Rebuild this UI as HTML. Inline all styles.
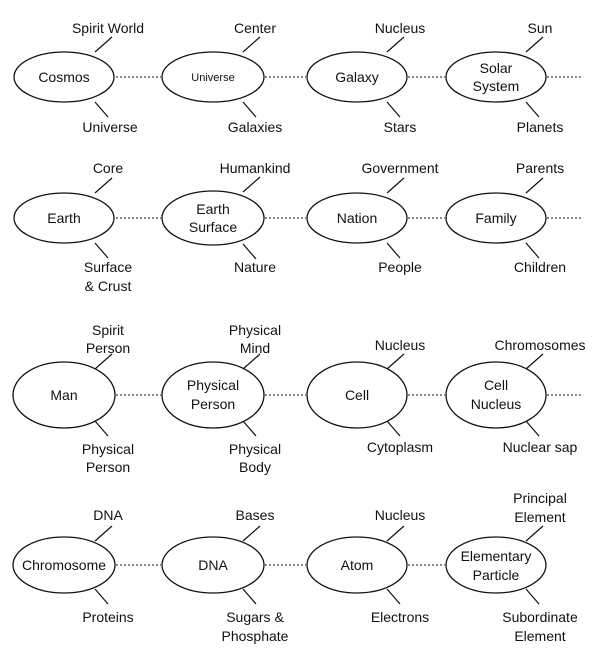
<!DOCTYPE html>
<html><head><meta charset="utf-8"><style>
html,body{margin:0;padding:0;background:#fff;}
svg{display:block;}
text{font-family:"Liberation Sans",Arial,sans-serif;font-size:14px;fill:#111;text-anchor:middle;}
</style></head><body>
<svg width="605" height="662" viewBox="0 0 605 662">
<g fill="none" stroke="#111" stroke-width="1.3">
<!-- rows: 77, 218, 395, 565 ; cols 64,213,357,496 -->
<ellipse cx="64" cy="77" rx="50" ry="25"/>
<ellipse cx="213" cy="77" rx="51" ry="25"/>
<ellipse cx="357" cy="77" rx="50" ry="25"/>
<ellipse cx="496" cy="77" rx="50" ry="25"/>
<ellipse cx="64" cy="218" rx="50" ry="25"/>
<ellipse cx="213" cy="218" rx="51" ry="27"/>
<ellipse cx="357" cy="218" rx="50" ry="25"/>
<ellipse cx="496" cy="218" rx="50" ry="25"/>
<ellipse cx="64" cy="395" rx="51" ry="33"/>
<ellipse cx="213" cy="395" rx="51" ry="33"/>
<ellipse cx="357" cy="395" rx="50" ry="33"/>
<ellipse cx="496" cy="395" rx="50" ry="33"/>
<ellipse cx="64" cy="565" rx="51" ry="28"/>
<ellipse cx="213" cy="565" rx="51" ry="28"/>
<ellipse cx="357" cy="565" rx="50" ry="28"/>
<ellipse cx="496" cy="565" rx="50" ry="28"/>
</g>
<g stroke="#111" stroke-width="1" stroke-dasharray="2,2">
<line x1="116" y1="77" x2="161" y2="77"/><line x1="265" y1="77" x2="306" y2="77"/><line x1="408" y1="77" x2="445" y2="77"/><line x1="547" y1="77" x2="582" y2="77"/>
<line x1="116" y1="218" x2="161" y2="218"/><line x1="265" y1="218" x2="306" y2="218"/><line x1="408" y1="218" x2="445" y2="218"/><line x1="547" y1="218" x2="582" y2="218"/>
<line x1="116" y1="395" x2="161" y2="395"/><line x1="265" y1="395" x2="306" y2="395"/><line x1="408" y1="395" x2="445" y2="395"/><line x1="547" y1="395" x2="582" y2="395"/>
<line x1="116" y1="565" x2="161" y2="565"/><line x1="265" y1="565" x2="306" y2="565"/><line x1="408" y1="565" x2="445" y2="565"/>
</g>
<g stroke="#111" stroke-width="1.2">
<!-- row1 -->
<line x1="95" y1="52" x2="112" y2="37"/><line x1="95" y1="102" x2="108" y2="117"/>
<line x1="243" y1="52" x2="260" y2="37"/><line x1="243" y1="102" x2="256" y2="117"/>
<line x1="387" y1="52" x2="404" y2="37"/><line x1="387" y1="102" x2="400" y2="117"/>
<line x1="526" y1="52" x2="543" y2="37"/><line x1="526" y1="102" x2="539" y2="117"/>
<!-- row2 -->
<line x1="95" y1="193" x2="112" y2="178"/><line x1="95" y1="243" x2="108" y2="258"/>
<line x1="243" y1="192" x2="260" y2="177"/><line x1="243" y1="244" x2="256" y2="259"/>
<line x1="387" y1="193" x2="404" y2="178"/><line x1="387" y1="243" x2="400" y2="258"/>
<line x1="526" y1="193" x2="543" y2="178"/><line x1="526" y1="243" x2="539" y2="258"/>
<!-- row3 -->
<line x1="95" y1="369" x2="112" y2="354"/><line x1="95" y1="421" x2="108" y2="436"/>
<line x1="243" y1="369" x2="260" y2="354"/><line x1="243" y1="421" x2="256" y2="436"/>
<line x1="387" y1="369" x2="404" y2="354"/><line x1="387" y1="421" x2="400" y2="436"/>
<line x1="526" y1="369" x2="543" y2="354"/><line x1="526" y1="421" x2="539" y2="436"/>
<!-- row4 -->
<line x1="95" y1="541" x2="112" y2="526"/><line x1="95" y1="589" x2="108" y2="604"/>
<line x1="243" y1="541" x2="260" y2="526"/><line x1="243" y1="589" x2="256" y2="604"/>
<line x1="387" y1="541" x2="404" y2="526"/><line x1="387" y1="589" x2="400" y2="604"/>
<line x1="526" y1="541" x2="543" y2="526"/><line x1="526" y1="589" x2="539" y2="604"/>
</g>
<!-- node labels -->
<text x="64" y="82">Cosmos</text>
<text x="213" y="81" style="font-size:11px">Universe</text>
<text x="357" y="82">Galaxy</text>
<text x="496" y="73">Solar</text><text x="496" y="91">System</text>
<text x="64" y="223">Earth</text>
<text x="213" y="214">Earth</text><text x="213" y="232">Surface</text>
<text x="357" y="223">Nation</text>
<text x="496" y="223">Family</text>
<text x="64" y="400">Man</text>
<text x="213" y="390">Physical</text><text x="213" y="409">Person</text>
<text x="357" y="400">Cell</text>
<text x="496" y="390">Cell</text><text x="496" y="409">Nucleus</text>
<text x="64" y="570">Chromosome</text>
<text x="213" y="570">DNA</text>
<text x="357" y="570">Atom</text>
<text x="496" y="561">Elementary</text><text x="496" y="580">Particle</text>
<!-- row1 outer labels -->
<text x="108" y="33">Spirit World</text><text x="110" y="132">Universe</text>
<text x="255" y="33">Center</text><text x="255" y="132">Galaxies</text>
<text x="400" y="33">Nucleus</text><text x="400" y="132">Stars</text>
<text x="540" y="33">Sun</text><text x="540" y="132">Planets</text>
<!-- row2 -->
<text x="108" y="173">Core</text><text x="108" y="272">Surface</text><text x="108" y="291">&amp; Crust</text>
<text x="255" y="173">Humankind</text><text x="255" y="272">Nature</text>
<text x="400" y="173">Government</text><text x="400" y="272">People</text>
<text x="540" y="173">Parents</text><text x="540" y="272">Children</text>
<!-- row3 -->
<text x="108" y="335">Spirit</text><text x="108" y="353">Person</text>
<text x="108" y="454">Physical</text><text x="108" y="472">Person</text>
<text x="255" y="335">Physical</text><text x="255" y="353">Mind</text>
<text x="255" y="454">Physical</text><text x="255" y="472">Body</text>
<text x="400" y="350">Nucleus</text><text x="400" y="452">Cytoplasm</text>
<text x="540" y="350">Chromosomes</text><text x="540" y="452">Nuclear sap</text>
<!-- row4 -->
<text x="108" y="520">DNA</text><text x="108" y="622">Proteins</text>
<text x="255" y="520">Bases</text><text x="255" y="622">Sugars &amp;</text><text x="255" y="641">Phosphate</text>
<text x="400" y="520">Nucleus</text><text x="400" y="622">Electrons</text>
<text x="540" y="503">Principal</text><text x="540" y="522">Element</text>
<text x="540" y="622">Subordinate</text><text x="540" y="641">Element</text>
</svg>
</body></html>
